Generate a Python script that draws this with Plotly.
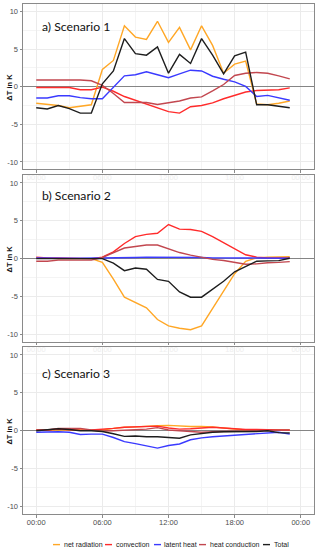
import plotly.graph_objects as go

# ---------------- data ----------------
hours = list(range(24))
x_tick_vals = [0, 6, 12, 18, 24]
x_tick_text = ["00:00", "06:00", "12:00", "18:00", "00:00"]
y_tick_vals = [-10, -5, 0, 5, 10]
y_tick_text = ["-10", "-5", "0", "5", "10"]
series_names = ["net radiation", "convection", "latent heat", "heat conduction", "Total"]
panel_titles = ["a) Scenario 1", "b) Scenario 2", "c) Scenario 3"]

# Scenario 1
s1_net_radiation = [-2.2, -2.3, -2.5, -2.8, -2.6, -2.4, 2.3, 3.5, 8.1, 6.6, 6.3, 8.7,
                    5.9, 7.9, 4.9, 8.1, 5.5, 1.8, 3.0, 3.4, -2.3, -2.4, -2.2, -1.9]
s1_convection = [-0.1, -0.1, 0.0, -0.1, -0.4, -0.4, -0.05, -0.6, -1.3, -1.8, -2.25, -2.8,
                 -3.3, -3.5, -2.65, -2.5, -2.15, -1.6, -1.15, -0.7, -0.5, -0.5, -0.4, -0.15]
s1_latent_heat = [-1.5, -1.5, -1.2, -1.2, -1.45, -1.6, -1.6, -0.05, 1.45, 1.6, 2.0, 1.6,
                  1.2, 1.7, 2.2, 2.1, 1.4, 1.0, 0.65, 0.05, -1.3, -1.15, -1.5, -1.8]
s1_heat_conduction = [0.9, 0.9, 1.0, 1.0, 0.9, 0.8, 0.2, -0.9, -2.1, -2.1, -2.1, -2.35,
                      -2.15, -1.9, -1.5, -1.35, -0.55, 0.3, 1.5, 1.8, 1.9, 1.8, 1.45, 1.05]
s1_total = [-2.8, -2.95, -2.5, -2.9, -3.5, -3.5, 0.4, 2.1, 6.4, 4.4, 4.2, 5.3,
            1.8, 4.3, 3.1, 6.4, 4.2, 1.7, 4.1, 4.6, -2.4, -2.4, -2.6, -2.8]

# Scenario 2
s2_net_radiation = [0.1, 0.0, 0.0, 0.0, 0.0, 0.0, -0.5, -2.7, -5.1, -5.8, -6.5, -8.05,
                    -8.9, -9.2, -9.4, -8.9, -6.6, -4.4, -2.0, -0.35, 0.1, 0.2, 0.25, 0.25]
s2_convection = [0.2, 0.1, 0.1, 0.1, 0.1, 0.0, 0.2, 0.9, 2.0, 2.9, 3.2, 3.35,
                 4.5, 3.9, 3.85, 3.6, 2.9, 2.1, 1.3, 0.5, 0.2, 0.1, 0.1, 0.1]
s2_latent_heat = [0.1, 0.05, 0.05, 0.05, 0.05, 0.05, 0.05, 0.1, 0.1, 0.15, 0.2, 0.2,
                  0.2, 0.2, 0.2, 0.15, 0.1, 0.1, 0.1, 0.05, 0.05, 0.05, 0.05, 0.05]
s2_heat_conduction = [-0.35, -0.35, -0.2, -0.2, -0.2, -0.2, 0.15, 0.8, 1.4, 1.6, 1.8, 1.8,
                      1.25, 0.8, 0.45, 0.15, -0.1, -0.25, -0.5, -0.75, -0.7, -0.55, -0.5, -0.4]
s2_total = [0.0, 0.0, 0.0, 0.0, 0.0, 0.0, 0.0, -0.6, -1.6, -1.25, -1.4, -2.75,
            -3.0, -4.4, -5.1, -5.1, -4.1, -3.0, -1.75, -1.0, -0.35, -0.3, -0.27, 0.05]

# Scenario 3
s3_net_radiation = [0.1, 0.1, 0.1, 0.1, 0.1, 0.1, 0.1, 0.3, 0.45, 0.5, 0.6, 0.65,
                    0.7, 0.6, 0.55, 0.55, 0.5, 0.35, 0.2, 0.1, 0.1, 0.1, 0.1, 0.1]
s3_convection = [0.1, 0.1, 0.2, 0.1, 0.05, 0.1, 0.15, 0.3, 0.45, 0.5, 0.55, 0.6,
                 0.35, 0.2, 0.25, 0.35, 0.45, 0.35, 0.2, 0.15, 0.15, 0.1, 0.1, 0.05]
s3_latent_heat = [-0.2, -0.15, -0.15, -0.2, -0.5, -0.45, -0.45, -0.9, -1.45, -1.7, -1.95, -2.3,
                  -1.95, -1.75, -1.2, -0.95, -0.8, -0.7, -0.55, -0.5, -0.4, -0.3, -0.2, -0.45]
s3_heat_conduction = [0.1, 0.1, 0.3, 0.3, 0.3, 0.1, -0.05, 0.0, 0.05, 0.1, 0.2, 0.4,
                      0.1, 0.0, -0.1, -0.2, -0.15, -0.1, -0.1, -0.05, 0.05, 0.1, 0.1, 0.1]
s3_total = [0.0, 0.1, 0.25, 0.15, 0.0, 0.0, -0.1, -0.4, -0.75, -0.7, -0.8, -0.8,
            -0.85, -1.0, -0.55, -0.35, -0.2, -0.15, -0.15, -0.15, -0.1, 0.0, -0.25, -0.3]

scenarios = [
    [s1_net_radiation, s1_convection, s1_latent_heat, s1_heat_conduction, s1_total],
    [s2_net_radiation, s2_convection, s2_latent_heat, s2_heat_conduction, s2_total],
    [s3_net_radiation, s3_convection, s3_latent_heat, s3_heat_conduction, s3_total],
]
series_colors = ["#FFA726", "#FF2B2B", "#3A3AFF", "#C2474F", "#1E1E1E"]

# ---------------- figure ----------------
fig = go.Figure()
domains = [[0.6755, 1.0], [0.3376, 0.664], [0.0, 0.3267]]
grid_major = "#EBEBEB"
grid_minor = "#F4F4F4"
border = "#8A8A8A"
PLOT_L, PLOT_W = 23, 291

for p, series in enumerate(scenarios):
    xa = "x" if p == 0 else f"x{p+1}"
    ya = "y" if p == 0 else f"y{p+1}"
    for name, vals, col in zip(series_names, series, series_colors):
        fig.add_trace(go.Scatter(x=hours, y=vals, mode="lines", name=name,
                                 line=dict(color=col, width=1.4),
                                 xaxis=xa, yaxis=ya, showlegend=False))
    last = p == 2
    xkey = "xaxis" if p == 0 else f"xaxis{p+1}"
    ykey = "yaxis" if p == 0 else f"yaxis{p+1}"
    fig.update_layout(**{
        xkey: dict(domain=[0, 1], anchor=ya, range=[-1.2, 25.2],
                   tickmode="array", tickvals=x_tick_vals, ticktext=x_tick_text,
                   showgrid=True, gridcolor=grid_major, gridwidth=1,
                   minor=dict(tickmode="array", tickvals=[3, 9, 15, 21],
                              showgrid=True, gridcolor=grid_minor, gridwidth=0.6),
                   showline=True, mirror=True, linecolor=border, linewidth=1,
                   ticks="outside", ticklen=2.5, tickcolor=border, tickwidth=0.8,
                   ticklabelstandoff=-2,
                   tickfont=dict(family="Liberation Sans", size=7.5,
                                 color="#4D4D4D" if last else "#EEEEEE"),
                   zeroline=False),
        ykey: dict(domain=domains[p], anchor=xa, range=[-11, 11],
                   tickmode="array", tickvals=y_tick_vals, ticktext=y_tick_text,
                   showgrid=True, gridcolor=grid_major, gridwidth=1,
                   minor=dict(tickmode="array", tickvals=[-7.5, -2.5, 2.5, 7.5],
                              showgrid=True, gridcolor=grid_minor, gridwidth=0.6),
                   showline=True, mirror=True, linecolor=border, linewidth=1,
                   ticks="outside", ticklen=2.5, tickcolor=border, tickwidth=0.8,
                   tickfont=dict(family="Liberation Sans", size=7.5, color="#4D4D4D"),
                   zeroline=True, zerolinecolor="#858585", zerolinewidth=1.2),
    })

annotations = []
shapes = []
title_y = [8.0, 8.3, 7.6]
for p, t in enumerate(panel_titles):
    xa = "x" if p == 0 else f"x{p+1}"
    ya = "y" if p == 0 else f"y{p+1}"
    annotations.append(dict(text=t, x=0.3, y=title_y[p], xref=xa, yref=ya,
                            xanchor="left", yanchor="middle", showarrow=False,
                            font=dict(family="Lato", size=12.2, color="#111111")))
    annotations.append(dict(text="<b>ΔT in K</b>", x=-0.045, y=0.5, xref="paper",
                            yref=f"{ya} domain", xanchor="center", yanchor="middle",
                            textangle=-90, showarrow=False,
                            font=dict(family="Liberation Sans", size=7.5, color="#111111")))

# legend built from short key lines + labels (pixel positions of the reference)
legend_key_px = [53, 105, 154, 199, 263]
legend_text_px = [63, 115, 163, 209, 273]
legend_y = -0.060
for name, col, kx, tx in zip(series_names, series_colors, legend_key_px, legend_text_px):
    shapes.append(dict(type="line", xref="paper", yref="paper",
                       x0=(kx - PLOT_L) / PLOT_W, x1=(kx + 7 - PLOT_L) / PLOT_W,
                       y0=legend_y, y1=legend_y, line=dict(color=col, width=1.4)))
    annotations.append(dict(
        text=name, x=(tx - PLOT_L) / PLOT_W, y=legend_y, xref="paper", yref="paper",
        xanchor="left", yanchor="middle", showarrow=False, borderpad=0,
        font=dict(family="Liberation Sans", size=7, color="#1A1A1A")))

fig.update_layout(
    width=316, height=550,
    margin=dict(l=23, r=2, t=4, b=36),
    paper_bgcolor="white", plot_bgcolor="white",
    annotations=annotations, shapes=shapes,
    showlegend=False,
)

fig.write_html("out.html", config={"displayModeBar": False},
               post_script="document.body.style.margin='0px';document.body.style.overflow='hidden';")
